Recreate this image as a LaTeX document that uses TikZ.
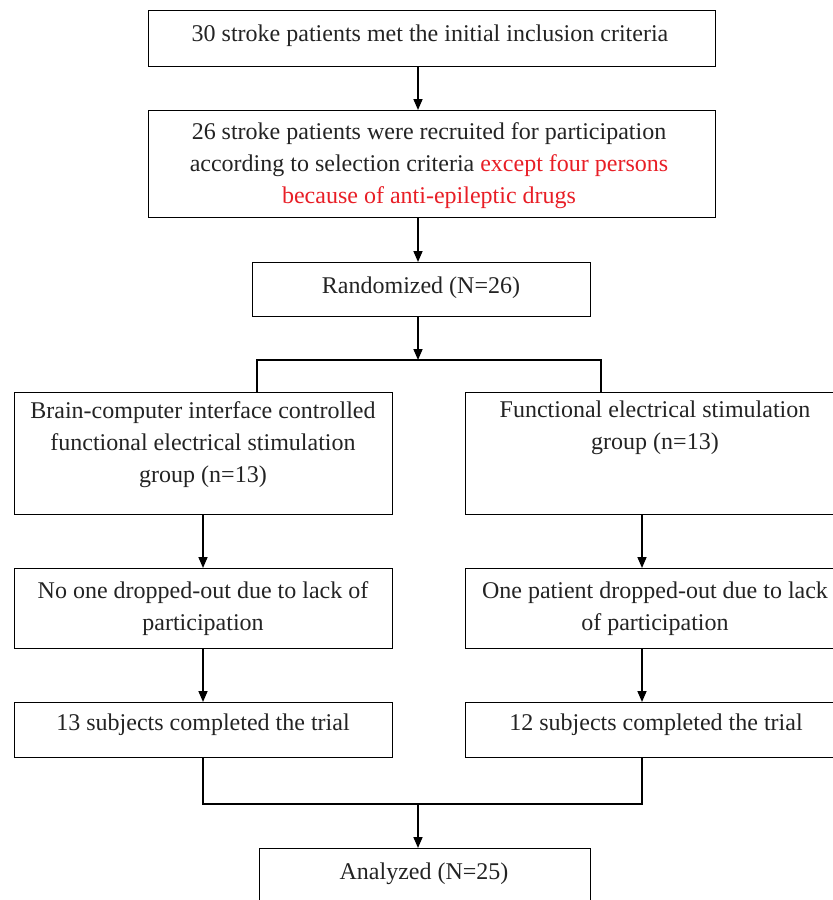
\documentclass[tikz,border=0pt]{standalone}
\usepackage{fontspec}
\setmainfont{Liberation Serif}
\usetikzlibrary{arrows.meta}
\definecolor{txtgray}{RGB}{35,35,35}
\definecolor{redtxt}{RGB}{232,30,38}
\begin{document}
\begin{tikzpicture}[x=1pt,y=-1pt,
  box/.style={draw=black, line width=1.4pt, rectangle, inner sep=0pt, anchor=north west},
  txt/.style={inner sep=0pt, align=center, text=txtgray, font=\fontsize{24}{32}\selectfont},
  arr/.style={-{Triangle[length=11pt,width=9pt]}, line width=1.6pt},
  ln/.style={line width=1.6pt}]
\useasboundingbox (0,0) rectangle (833,900);
\coordinate (spine) at (418,0);
\coordinate (lx) at (203,0);
\coordinate (rx) at (642,0);
% boxes
\node[box, minimum width=567pt, minimum height=56pt] (b1) at (148,10) {};
\node[box, minimum width=567pt, minimum height=107pt] (b2) at (148,110) {};
\node[box, minimum width=338pt, minimum height=54pt] (b3) at (252,262) {};
\node[box, minimum width=378pt, minimum height=122pt] (l1) at (14,392) {};
\node[box, minimum width=369pt, minimum height=122pt] (r1) at (465,392) {};
\node[box, minimum width=378pt, minimum height=80pt] (l2) at (14,568) {};
\node[box, minimum width=369pt, minimum height=80pt] (r2) at (465,568) {};
\node[box, minimum width=378pt, minimum height=55pt] (l3) at (14,702) {};
\node[box, minimum width=369pt, minimum height=55pt] (r3) at (465,702) {};
\node[box, minimum width=331pt, minimum height=70pt] (b7) at (259,848) {};
% texts
\node[txt] (t1) at (430,36) {30 stroke patients met the initial inclusion criteria};
\node[txt] (t2) at (429,166) {26 stroke patients were recruited for participation\\according to selection criteria \textcolor{redtxt}{except four persons}\\\textcolor{redtxt}{because of anti-epileptic drugs}};
\node[txt] (t3) at (421,288) {Randomized (N=26)};
\node[txt, anchor=north] (tl1) at (203,401) {Brain-computer interface controlled\\functional electrical stimulation\\group (n=13)};
\node[txt, anchor=north] (tr1) at (655,401) {Functional electrical stimulation\\group (n=13)};
\node[txt] (tl2) at (203,609) {No one dropped-out due to lack of\\participation};
\node[txt] (tr2) at (655,609) {One patient dropped-out due to lack\\of participation};
\node[txt] (tl3) at (203,725) {13 subjects completed the trial};
\node[txt] (tr3) at (656,725) {12 subjects completed the trial};
\node[txt] (t7) at (424,874) {Analyzed (N=25)};
% connectors
\draw[arr] (spine |- b1.south) -- (spine |- b2.north);
\draw[arr] (spine |- b2.south) -- (spine |- b3.north);
\coordinate (split) at (418,360);
\draw[arr] (spine |- b3.south) -- (split);
\draw[ln] (257,392 |- l1.north) -- (257,360) -- (601,360) -- (601,392 |- r1.north);
\draw[arr] (lx |- l1.south) -- (lx |- l2.north);
\draw[arr] (rx |- r1.south) -- (rx |- r2.north);
\draw[arr] (lx |- l2.south) -- (lx |- l3.north);
\draw[arr] (rx |- r2.south) -- (rx |- r3.north);
\coordinate (join) at (418,804);
\draw[ln] (lx |- l3.south) -- (lx |- join) -- (rx |- join) -- (rx |- r3.south);
\draw[arr] (join) -- (spine |- b7.north);
\end{tikzpicture}
\end{document}
